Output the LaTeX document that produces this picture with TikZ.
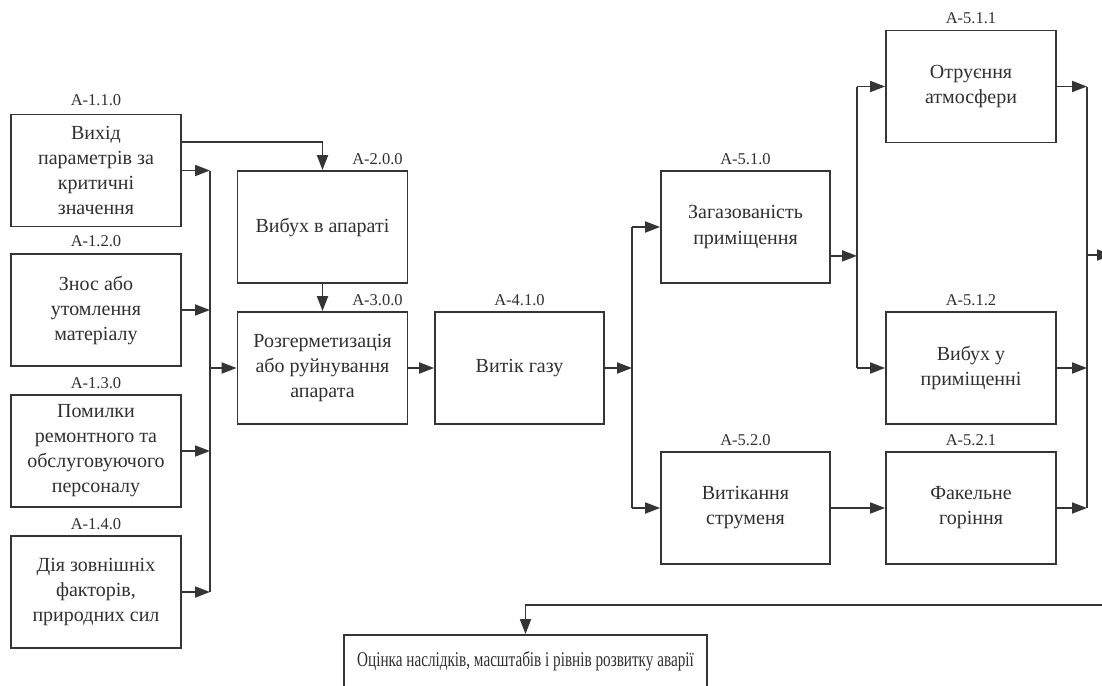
\documentclass[tikz,border=0pt]{standalone}
\usepackage{fontspec}
\setmainfont{Liberation Serif}
\usetikzlibrary{arrows.meta}
\definecolor{ink}{HTML}{353535}
\definecolor{txt}{HTML}{303030}
\begin{document}
\begin{tikzpicture}[x=1pt,y=-1pt,
  box/.style={draw=ink, line width=1.8pt, fill=white, minimum width=170pt, minimum height=112pt,
    align=center, font=\fontsize{20}{25}\selectfont, text=txt, inner sep=2pt},
  lbl/.style={font=\fontsize{16.5}{18}\selectfont, text=txt, inner sep=0pt},
  wire/.style={draw=ink, line width=1.8pt},
  arr/.style={wire, -{Triangle[length=15pt,width=11pt]}}]
\useasboundingbox[fill=white] (0,0) rectangle (1102,685);

% nodes
\node[box] (b11) at (96,170.5) {Вихід\\параметрів за\\критичні\\значення};
\node[box] (b12) at (96,310) {Знос або\\утомлення\\матеріалу};
\node[box] (b13) at (96,451) {Помилки\\ремонтного та\\обслуговуючого\\персоналу};
\node[box] (b14) at (96,592) {Дія зовнішніх\\факторів,\\природних сил};
\node[box] (b20) at (322.5,227) {Вибух в апараті};
\node[box] (b30) at (322.5,368) {Розгерметизація\\або руйнування\\апарата};
\node[box, minimum width=169pt] (b41) at (519.5,368) {Витік газу};
\node[box, minimum width=169pt] (b510) at (745.5,227) {Загазованість\\приміщення};
\node[box] (b511) at (971,86.5) {Отруєння\\атмосфери};
\node[box] (b512) at (971,368) {Вибух у\\приміщенні};
\node[box, minimum width=169pt] (b520) at (745.5,508) {Витікання\\струменя};
\node[box] (b521) at (971,508) {Факельне\\горіння};
\node[box, minimum width=363pt, minimum height=52pt] (bot) at (525.5,661)
  {\scalebox{0.76}[1.05]{Оцінка наслідків, масштабів і рівнів розвитку аварії}};

% labels
\node[lbl] (l11) at ([yshift=13pt]b11.north) {А-1.1.0};
\node[lbl] (l12) at ([yshift=12pt]b12.north) {А-1.2.0};
\node[lbl] (l13) at ([yshift=11pt]b13.north) {А-1.3.0};
\node[lbl] (l14) at ([yshift=11pt]b14.north) {А-1.4.0};
\node[lbl] (l20) at ([xshift=55pt,yshift=11pt]b20.north) {А-2.0.0};
\node[lbl] (l30) at ([xshift=55pt,yshift=11pt]b30.north) {А-3.0.0};
\node[lbl] (l41) at ([yshift=11pt]b41.north) {А-4.1.0};
\node[lbl] (l510) at ([yshift=11pt]b510.north) {А-5.1.0};
\node[lbl] (l511) at ([yshift=11pt]b511.north) {А-5.1.1};
\node[lbl] (l512) at ([yshift=11pt]b512.north) {А-5.1.2};
\node[lbl] (l520) at ([yshift=11pt]b520.north) {А-5.2.0};
\node[lbl] (l521) at ([yshift=11pt]b521.north) {А-5.2.1};

% bus coordinates
\coordinate (bus1) at (210,0);
\coordinate (bus2) at (632,0);
\coordinate (bus3) at (857,0);
\coordinate (bus4) at (1087,0);
\coordinate (out) at (1112,255);
\coordinate (ret) at (1110,605);

% left inputs
\draw[arr] (b11.east) -- (b11.east -| bus1);
\draw[arr] (b12.east) -- (b12.east -| bus1);
\draw[arr] (b13.east) -- (b13.east -| bus1);
\draw[arr] (b14.east) -- (b14.east -| bus1);
\draw[wire] (bus1 |- b11.east) -- (bus1 |- b14.east);
\draw[arr] (bus1 |- b30.west) -- (b30.west);
\draw[arr] ([yshift=-28pt]b11.north east) -| (b20.north);
\draw[arr] (b20.south) -- (b30.north);
\draw[arr] (b30.east) -- (b41.west);

% middle
\draw[arr] (b41.east) -- (b41.east -| bus2);
\draw[wire] (bus2 |- b510.west) -- (bus2 |- b520.west);
\draw[arr] (bus2 |- b510.west) -- (b510.west);
\draw[arr] (bus2 |- b520.west) -- (b520.west);
\draw[arr] ([yshift=28pt]b510.south east) -- ([yshift=28pt]b510.south east -| bus3);
\draw[wire] (bus3 |- b511.west) -- (bus3 |- b512.west);
\draw[arr] (bus3 |- b511.west) -- (b511.west);
\draw[arr] (bus3 |- b512.west) -- (b512.west);
\draw[arr] (b520.east) -- (b521.west);

% right
\draw[arr] (b511.east) -- (b511.east -| bus4);
\draw[arr] (b512.east) -- (b512.east -| bus4);
\draw[arr] (b521.east) -- (b521.east -| bus4);
\draw[wire] (bus4 |- b511.east) -- (bus4 |- b521.east);
\draw[arr] (bus4 |- out) -- (out);

% return
\draw[arr] (ret) -| (bot.north);
\end{tikzpicture}
\end{document}
